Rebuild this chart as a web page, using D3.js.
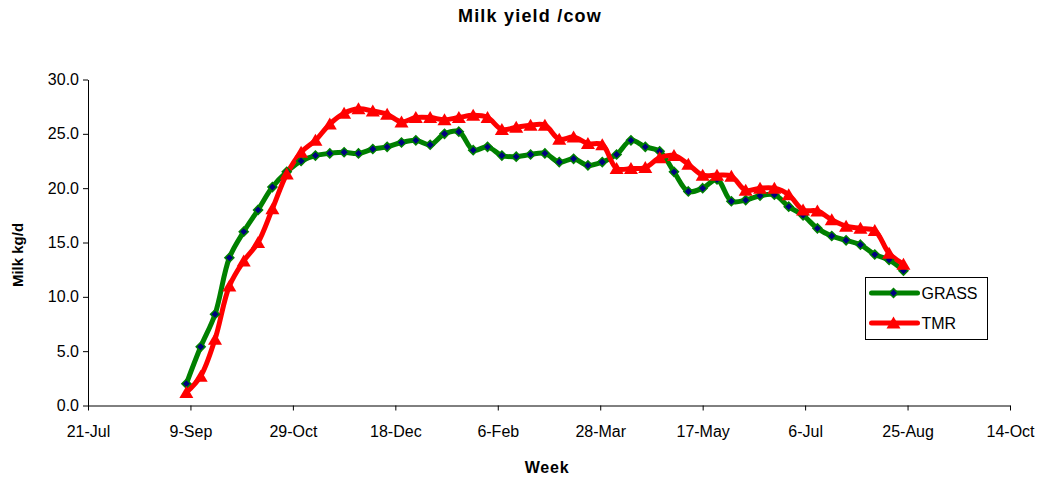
<!DOCTYPE html>
<html>
<head>
<meta charset="utf-8">
<script src="https://cdn.jsdelivr.net/npm/d3@7/dist/d3.min.js"></script>
<style>
  html, body { margin: 0; padding: 0; background: #fff; }
  svg { display: block; font-family: "Liberation Sans", Arial, sans-serif; }
</style>
</head>
<body>
<svg id="chart" width="1042" height="479"></svg>
<script>
// Weekly milk yield per cow, kg/d
const firstWeek = "2006-09-07";
const grass = [2.0, 5.4, 8.4, 13.6, 16.0, 18.0, 20.1, 21.5, 22.5, 23.0,
               23.2, 23.3, 23.2, 23.6, 23.8, 24.2, 24.4, 24.0, 25.0, 25.2,
               23.5, 23.8, 23.0, 22.9, 23.1, 23.2, 22.4, 22.7, 22.1, 22.4,
               23.1, 24.4, 23.8, 23.4, 21.5, 19.7, 20.0, 20.8, 18.8, 18.9,
               19.3, 19.4, 18.3, 17.5, 16.3, 15.6, 15.2, 14.8, 13.9, 13.4, 12.4];
const tmr   = [1.2, 2.7, 6.1, 11.0, 13.3, 15.0, 18.1, 21.3, 23.3, 24.4,
               25.9, 26.9, 27.3, 27.1, 26.8, 26.1, 26.5, 26.5, 26.3, 26.5,
               26.7, 26.5, 25.4, 25.6, 25.8, 25.8, 24.5, 24.7, 24.1, 24.0,
               21.8, 21.8, 21.9, 22.8, 23.0, 22.2, 21.2, 21.2, 21.1, 19.8,
               20.0, 20.0, 19.4, 18.0, 17.9, 17.1, 16.5, 16.3, 16.1, 14.0, 13.0];
const seriesNames = ["GRASS", "TMR"];
const xTickDates = ["2006-07-21", "2006-09-09", "2006-10-29", "2006-12-18", "2007-02-06",
                    "2007-03-28", "2007-05-17", "2007-07-06", "2007-08-25", "2007-10-14"];
const yTicks = [0, 5, 10, 15, 20, 25, 30];

const parse = d3.utcParse("%Y-%m-%d");
const start = parse(firstWeek);
const weeks = grass.map((_, i) => d3.utcDay.offset(start, 7 * i));
const tickDates = xTickDates.map(parse);

const svg = d3.select("#chart");
const plotLeft = 88, plotRight = 1010, plotTop = 79.5, plotBottom = 405.5;

const x = d3.scaleUtc()
  .domain([tickDates[0], tickDates[tickDates.length - 1]])
  .range([plotLeft, plotRight]);
const y = d3.scaleLinear().domain([0, 30]).range([plotBottom, plotTop]);

// Title
svg.append("text")
  .attr("x", 530).attr("y", 22)
  .attr("text-anchor", "middle")
  .attr("font-size", 18).attr("font-weight", "bold")
  .attr("letter-spacing", 1.2)
  .text("Milk yield /cow");

// Axes
const yAxis = svg.append("g")
  .attr("transform", `translate(${plotLeft},0)`)
  .call(d3.axisLeft(y).tickValues(yTicks).tickFormat(d3.format(".1f"))
    .tickSize(5).tickSizeOuter(0).tickPadding(4));
const xAxis = svg.append("g")
  .attr("transform", `translate(0,${plotBottom})`)
  .call(d3.axisBottom(x).tickValues(tickDates).tickFormat(d3.utcFormat("%-d-%b"))
    .tickSize(5).tickSizeOuter(0).tickPadding(15));
[yAxis, xAxis].forEach(g => {
  g.selectAll("text").attr("font-size", 16).attr("fill", "#000")
    .attr("font-family", "'Liberation Sans', Arial, sans-serif");
  g.selectAll("path, line").attr("stroke", "#000");
});

// Axis titles
svg.append("text")
  .attr("x", 547).attr("y", 473)
  .attr("text-anchor", "middle")
  .attr("font-size", 16).attr("font-weight", "bold")
  .attr("letter-spacing", 0.8)
  .text("Week");
svg.append("text")
  .attr("transform", "translate(23,255) rotate(-90)")
  .attr("text-anchor", "middle")
  .attr("font-size", 15).attr("font-weight", "bold")
  .text("Milk kg/d");

// Series
const line = d3.line()
  .x((d, i) => x(weeks[i]))
  .y(d => y(d))
  .curve(d3.curveCatmullRom.alpha(0.5));

const diamond = "M0,-4.5L4.5,0L0,4.5L-4.5,0Z";
const triangle = "M0,-6.5L7,5.5L-7,5.5Z";

const series = [
  { name: seriesNames[0], values: grass, color: "#008000" },
  { name: seriesNames[1], values: tmr, color: "#ff0000" }
];

series.forEach(s => {
  svg.append("path")
    .datum(s.values)
    .attr("fill", "none")
    .attr("stroke", s.color)
    .attr("stroke-width", 5)
    .attr("stroke-linejoin", "round")
    .attr("d", line);
});

svg.append("g").selectAll("path")
  .data(grass)
  .join("path")
  .attr("transform", (d, i) => `translate(${x(weeks[i])},${y(d)})`)
  .attr("d", diamond)
  .attr("fill", "#000080")
  .attr("stroke", "#008000")
  .attr("stroke-width", 1.5);

svg.append("g").selectAll("path")
  .data(tmr)
  .join("path")
  .attr("transform", (d, i) => `translate(${x(weeks[i])},${y(d)})`)
  .attr("d", triangle)
  .attr("fill", "#ff0000");

// Legend
const legend = svg.append("g").attr("transform", "translate(865.5,277.5)");
legend.append("rect")
  .attr("width", 122).attr("height", 62)
  .attr("fill", "#fff").attr("stroke", "#000").attr("stroke-width", 1);
series.forEach((s, i) => {
  const gy = 15.5 + i * 30;
  const row = legend.append("g").attr("transform", `translate(0,${gy})`);
  row.append("line")
    .attr("x1", 6).attr("x2", 52)
    .attr("stroke", s.color).attr("stroke-width", 5).attr("stroke-linecap", "round");
  row.append("path")
    .attr("transform", "translate(28,0)")
    .attr("d", i === 0 ? diamond : triangle)
    .attr("fill", i === 0 ? "#000080" : "#ff0000")
    .attr("stroke", i === 0 ? "#008000" : "none")
    .attr("stroke-width", 1.5);
  row.append("text")
    .attr("x", 56).attr("y", 6)
    .attr("font-size", 16)
    .text(s.name);
});
</script>
</body>
</html>
